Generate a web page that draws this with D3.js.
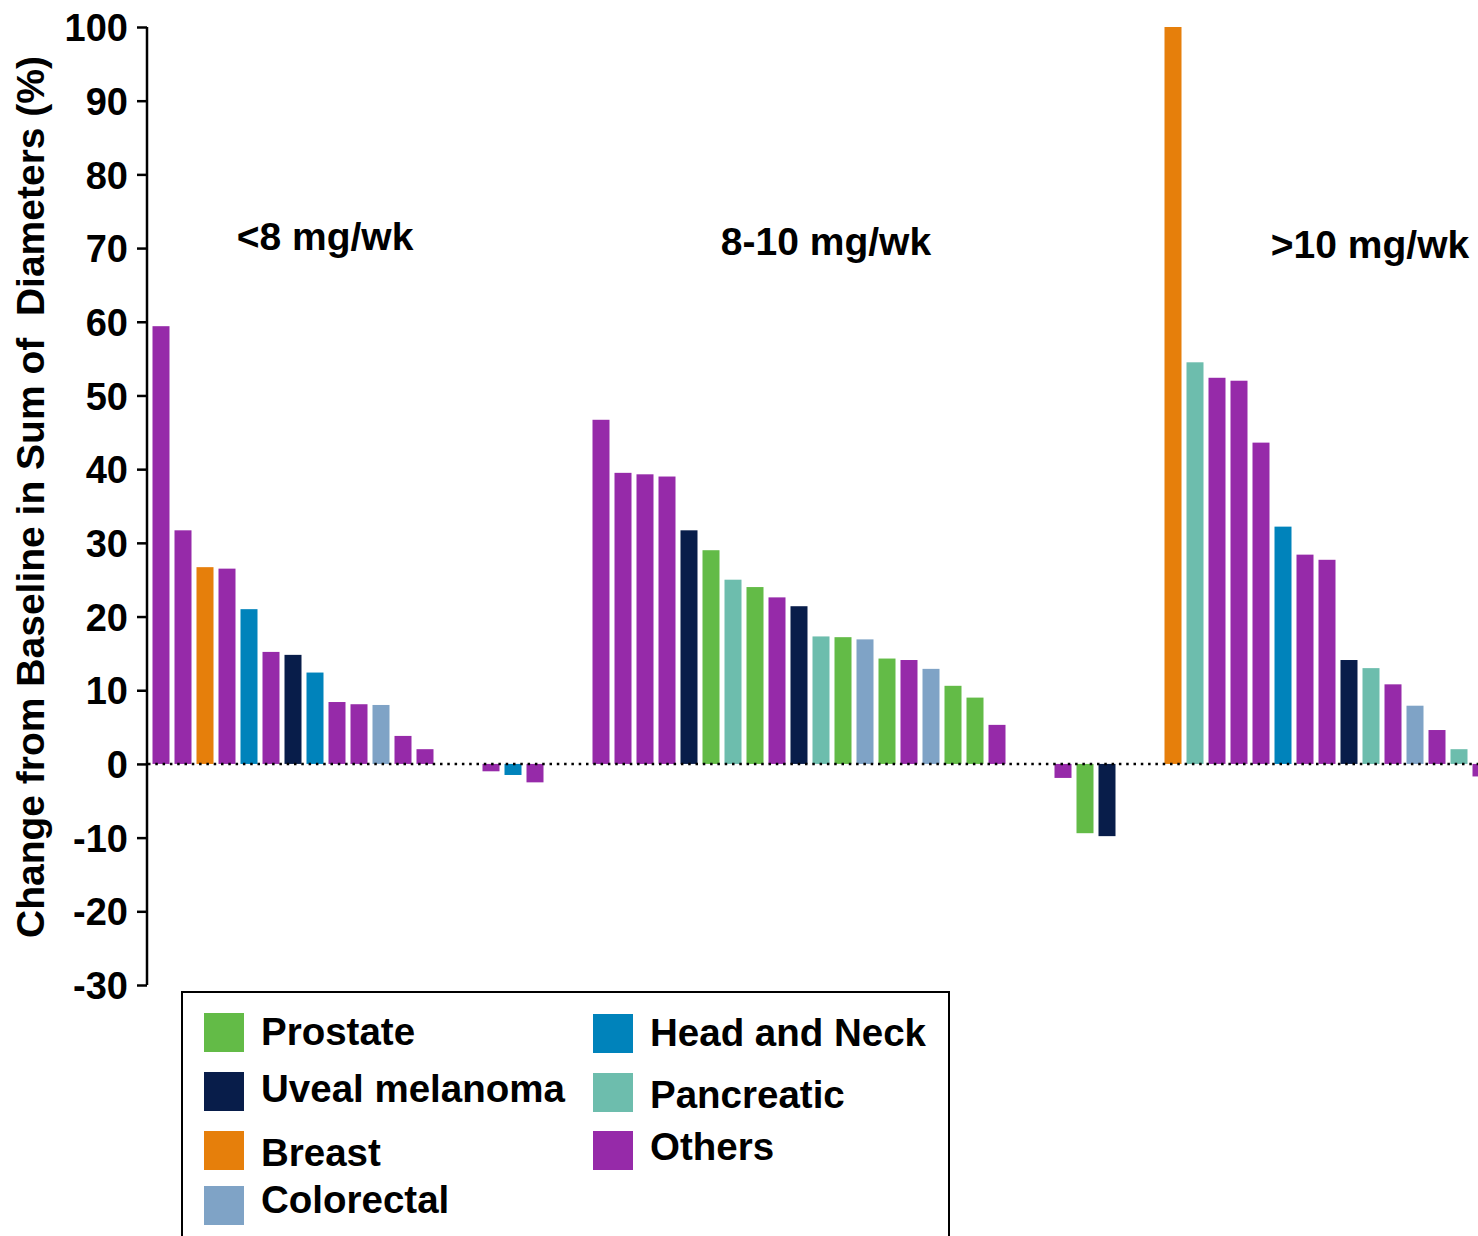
<!DOCTYPE html>
<html>
<head>
<meta charset="utf-8">
<script src="https://cdn.jsdelivr.net/npm/d3@7"></script>
<style>
  body { margin: 0; background: #fff; }
  svg { display: block; }
  text { font-family: "Liberation Sans", Arial, sans-serif; font-weight: bold; fill: #000; }
</style>
</head>
<body>
<svg width="1478" height="1236"></svg>
<script>
// tumour types and colours
var tumorTypes = ["Prostate", "Uveal melanoma", "Breast", "Colorectal", "Head and Neck", "Pancreatic", "Others"];
var typeColors = ["#63bb47", "#081d4a", "#e67f0b", "#7fa3c6", "#0083bb", "#6dbdad", "#962aa9"];

// dose groups
var groupLabels = ["<8 mg/wk", "8-10 mg/wk", ">10 mg/wk"];

// change from baseline (%), one entry per patient slot; 0 = no change
var lowValues = [59.4, 31.7, 26.7, 26.5, 21.0, 15.2, 14.8, 12.4, 8.4, 8.1, 8.0, 3.8, 2.0, 0, 0, -1.0, -1.5, -2.5];
var lowTypes = ["Others", "Others", "Breast", "Others", "Head and Neck", "Others", "Uveal melanoma", "Head and Neck",
  "Others", "Others", "Colorectal", "Others", "Others", null, null, "Others", "Head and Neck", "Others"];

var midValues = [46.7, 39.5, 39.3, 39.0, 31.7, 29.0, 25.0, 24.0, 22.6, 21.4, 17.3, 17.2, 16.9, 14.3, 14.1, 12.9, 10.6, 9.0, 5.3,
  0, 0, -1.9, -9.4, -9.8];
var midTypes = ["Others", "Others", "Others", "Others", "Uveal melanoma", "Prostate", "Pancreatic", "Prostate", "Others",
  "Uveal melanoma", "Pancreatic", "Prostate", "Colorectal", "Prostate", "Others", "Colorectal", "Prostate", "Prostate", "Others",
  null, null, "Others", "Prostate", "Uveal melanoma"];

var highValues = [100, 54.5, 52.4, 52.0, 43.6, 32.2, 28.4, 27.7, 14.1, 13.0, 10.8, 7.9, 4.6, 2.0, -1.7];
var highTypes = ["Breast", "Pancreatic", "Others", "Others", "Others", "Head and Neck", "Others", "Others", "Uveal melanoma",
  "Pancreatic", "Others", "Colorectal", "Others", "Pancreatic", "Others"];

var yTicks = [100, 90, 80, 70, 60, 50, 40, 30, 20, 10, 0, -10, -20, -30];

var svg = d3.select("svg"),
  width = +svg.attr("width"),
  height = +svg.attr("height");

var groupGap = 2;

// flatten groups into slots
var slots = [];
[[lowValues, lowTypes], [midValues, midTypes], [highValues, highTypes]].forEach(function(g, gi) {
  g[0].forEach(function(v, i) {
    slots.push({ value: v, type: g[1][i] });
  });
  if (gi < 2) for (var k = 0; k < groupGap; k++) slots.push({ value: 0, type: null });
});
slots.forEach(function(d, i) { d.slot = i; });

var color = d3.scaleOrdinal().domain(tumorTypes).range(typeColors);

var x = d3.scaleBand()
  .domain(d3.range(slots.length))
  .range([152.5, 152.5 + slots.length * 22 - 5])
  .paddingInner(5 / 22)
  .paddingOuter(0);

var y = d3.scaleLinear()
  .domain([-30, 100])
  .range([985, 27]);

// bars
svg.append("g")
  .attr("class", "bars")
  .selectAll("rect")
  .data(slots.filter(function(d) { return d.value !== 0; }))
  .enter().append("rect")
  .attr("x", function(d) { return x(d.slot); })
  .attr("width", x.bandwidth())
  .attr("y", function(d) { return y(Math.max(0, d.value)); })
  .attr("height", function(d) { return Math.abs(y(d.value) - y(0)); })
  .style("fill", function(d) { return color(d.type); });

// dotted zero line
svg.append("line")
  .attr("x1", 148)
  .attr("x2", width)
  .attr("y1", y(0))
  .attr("y2", y(0))
  .style("stroke", "#000")
  .style("stroke-width", 2.5)
  .style("stroke-dasharray", "2.5 4.8");

// y axis
var yAxis = svg.append("g")
  .attr("transform", "translate(147,0)")
  .call(d3.axisLeft(y).tickValues(yTicks).tickSize(10).tickPadding(9)
    .tickFormat(function(d) { return String(d); }));

yAxis.select(".domain").style("stroke-width", 2.5).attr("d", "M0," + y(100) + "V" + y(-30));
yAxis.selectAll(".tick line").style("stroke-width", 2.5);
yAxis.selectAll(".tick text")
  .attr("font-family", null)
  .attr("font-size", null)
  .style("font-family", "'Liberation Sans', Arial, sans-serif")
  .style("font-weight", "bold")
  .style("font-size", "38px")
  .attr("dy", "0.36em");

// y axis label
svg.append("text")
  .attr("transform", "translate(44,497) rotate(-90)")
  .attr("text-anchor", "middle")
  .style("font-size", "39px")
  .style("white-space", "pre")
  .text("Change from Baseline in Sum of  Diameters (%)");

// group titles
var titlePos = [[325, 250], [826, 255], [1370, 258]];
svg.append("g")
  .selectAll("text")
  .data(groupLabels)
  .enter().append("text")
  .attr("x", function(d, i) { return titlePos[i][0]; })
  .attr("y", function(d, i) { return titlePos[i][1]; })
  .attr("text-anchor", "middle")
  .style("font-size", "39px")
  .text(function(d) { return d; });

// legend
svg.append("rect")
  .attr("x", 182)
  .attr("y", 992)
  .attr("width", 767)
  .attr("height", 260)
  .style("fill", "none")
  .style("stroke", "#000")
  .style("stroke-width", 2);

var legendPos = [
  [204, 1013, 1045], [204, 1072, 1102], [204, 1131, 1166], [204, 1186, 1213],
  [593, 1014, 1046], [593, 1073, 1108], [593, 1131, 1160]
];

var legend = svg.append("g")
  .selectAll("g")
  .data(tumorTypes)
  .enter().append("g");

legend.append("rect")
  .attr("x", function(d, i) { return legendPos[i][0]; })
  .attr("y", function(d, i) { return legendPos[i][1]; })
  .attr("width", 40)
  .attr("height", 39)
  .style("fill", function(d) { return color(d); });

legend.append("text")
  .attr("x", function(d, i) { return legendPos[i][0] + 57; })
  .attr("y", function(d, i) { return legendPos[i][2]; })
  .style("font-size", "38.5px")
  .text(function(d) { return d; });
</script>
</body>
</html>
